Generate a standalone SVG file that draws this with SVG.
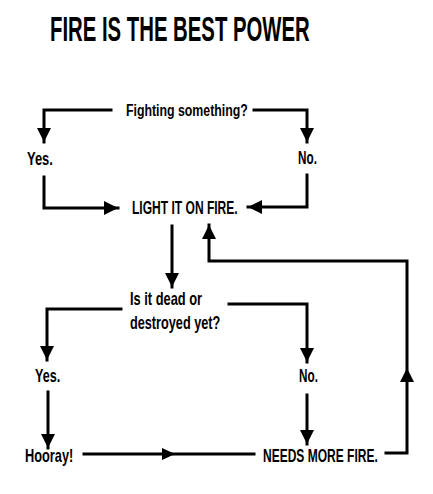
<svg xmlns="http://www.w3.org/2000/svg" width="433" height="494" viewBox="0 0 433 494">
<style>
.t{font-family:"Liberation Sans",Arial,sans-serif;font-size:19px;font-weight:bold;fill:#000;}
.title{font-family:"Liberation Sans",Arial,sans-serif;font-size:35px;font-weight:bold;fill:#000;}
.c{fill:none;stroke:#000;stroke-width:3;stroke-linejoin:miter;stroke-linecap:square;}
</style>
<defs>
<marker id="ah" viewBox="0 0 10 10" refX="10" refY="5" markerWidth="14" markerHeight="14" markerUnits="userSpaceOnUse" orient="auto">
<path d="M0,0 L10,5 L0,10 Z" fill="#000"/>
</marker>
</defs>
<rect width="433" height="494" fill="#fff"/>
<text class="title" transform="matrix(0.62 0 0 1 50 41)" textLength="419" lengthAdjust="spacingAndGlyphs">FIRE IS THE BEST POWER</text>
<g id="connectors">
<path class="c" d="M111,110 H44 V142" marker-end="url(#ah)"/>
<path class="c" d="M254,110 H307 V142" marker-end="url(#ah)"/>
<path class="c" d="M44,177 V208 H118" marker-end="url(#ah)"/>
<path class="c" d="M307,175 V207 H248" marker-end="url(#ah)"/>
<path class="c" d="M172,226 V287" marker-end="url(#ah)"/>
<path class="c" d="M386,453 H407 V261 H209 V225" marker-end="url(#ah)"/>
<path class="c" d="M121,309 H47 V360" marker-end="url(#ah)"/>
<path class="c" d="M229,304 H307 V362" marker-end="url(#ah)"/>
<path class="c" d="M48,392 V448" marker-end="url(#ah)"/>
<path class="c" d="M307,395 V444" marker-end="url(#ah)"/>
<path class="c" d="M84,454 H254"/>
<path d="M162,448 L175,454 L162,460 Z" fill="#000"/>
<path d="M400,382 L407,368 L414,382 Z" fill="#000"/>
</g>
<g id="fighting"><text class="t" transform="matrix(0.7 0 0 1 126 116)" textLength="174" lengthAdjust="spacingAndGlyphs" style="font-size:17px">Fighting something?</text></g>
<g id="yes1"><text class="t" transform="matrix(0.7 0 0 1 27 165)" textLength="37" lengthAdjust="spacingAndGlyphs">Yes.</text></g>
<g id="no1"><text class="t" transform="matrix(0.7 0 0 1 298 164)" textLength="27" lengthAdjust="spacingAndGlyphs">No.</text></g>
<g id="light"><text class="t" transform="matrix(0.7 0 0 1 132 214)" textLength="151" lengthAdjust="spacingAndGlyphs">LIGHT IT ON FIRE.</text></g>
<g id="dead"><text class="t" transform="matrix(0.7 0 0 1 130 305)" textLength="103" lengthAdjust="spacingAndGlyphs">Is it dead or</text><text class="t" transform="matrix(0.7 0 0 1 130 329)" textLength="129" lengthAdjust="spacingAndGlyphs">destroyed yet?</text></g>
<g id="yes2"><text class="t" transform="matrix(0.7 0 0 1 35 382)" textLength="36" lengthAdjust="spacingAndGlyphs">Yes.</text></g>
<g id="no2"><text class="t" transform="matrix(0.7 0 0 1 299 382)" textLength="27" lengthAdjust="spacingAndGlyphs">No.</text></g>
<g id="hooray"><text class="t" transform="matrix(0.7 0 0 1 25 462)" textLength="69" lengthAdjust="spacingAndGlyphs">Hooray!</text></g>
<g id="needs"><text class="t" transform="matrix(0.7 0 0 1 263 462)" textLength="164" lengthAdjust="spacingAndGlyphs">NEEDS MORE FIRE.</text></g>
</svg>
